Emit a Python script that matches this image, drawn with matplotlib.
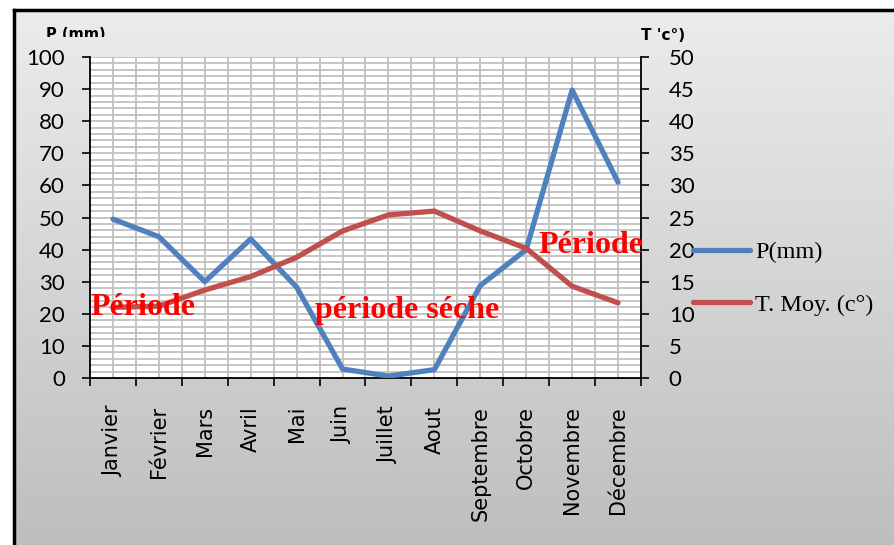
import numpy as np
import matplotlib
matplotlib.use("Agg")
import matplotlib.pyplot as plt
from matplotlib.patches import Rectangle
from matplotlib.ticker import MultipleLocator, FixedLocator

months = ["Janvier", "Février", "Mars", "Avril", "Mai", "Juin", "Juillet",
          "Aout", "Septembre", "Octobre", "Novembre", "Décembre"]
precip = [49.5, 44, 30, 43.3, 28.3, 2.8, 0.6, 2.6, 28.8, 40, 89.7, 61]
temp = [11.0, 11.2, 13.7, 15.8, 18.8, 22.9, 25.4, 26.0, 22.9, 20.2, 14.3, 11.7]
left_ticks = list(range(0, 101, 10))
right_ticks = list(range(0, 51, 5))

W, H = 895, 545
fig = plt.figure(figsize=(W / 100, H / 100), dpi=100)
fig.patch.set_facecolor("white")

# gradient background inside the chart border
bg = fig.add_axes([14 / W, 0, 1 - 14 / W, 1 - 10 / H], zorder=-10)
grad = np.linspace(0, 1, 256).reshape(-1, 1)
top_c = np.array([0.925, 0.925, 0.925])
bot_c = np.array([0.745, 0.745, 0.745])
img = top_c[None, None, :] * (1 - grad[:, :, None]) + bot_c[None, None, :] * grad[:, :, None]
bg.imshow(img, aspect="auto", extent=[0, 1, 0, 1], origin="upper")
bg.set_xlim(0, 1); bg.set_ylim(0, 1)
bg.set_xticks([]); bg.set_yticks([])
for s in ["right", "bottom"]:
    bg.spines[s].set_visible(False)
for s in ["left", "top"]:
    bg.spines[s].set_linewidth(2.5)
    bg.spines[s].set_color("black")

ax = fig.add_axes([90 / W, (H - 378) / H, (641 - 90) / W, 321 / H])
ax.set_facecolor("white")
x = np.arange(len(months))
ax.plot(x, precip, color="#4f81bd", lw=3.8, solid_capstyle="round", solid_joinstyle="round", zorder=3)
ax.set_xlim(-0.5, 11.5)
ax.set_ylim(0, 100)
ax.set_yticks(left_ticks)
ax.yaxis.set_minor_locator(MultipleLocator(2))
ax.set_xticks(x)
ax.set_xticklabels(months, rotation=90, va="top", ha="center", fontsize=15, family="DejaVu Sans")
ax.xaxis.set_minor_locator(FixedLocator(np.arange(-0.5, 12, 1.0)))
ax.tick_params(axis="x", which="major", length=0, pad=20)
ax.tick_params(axis="x", which="minor", length=6, width=1.2, direction="out")
ax.tick_params(axis="y", which="major", length=6, width=1.2, direction="out", pad=12, labelsize=16)
ax.tick_params(axis="y", which="minor", length=0)
for lab in ax.get_yticklabels():
    lab.set_family("Lato")
ax.grid(True, which="both", axis="both", color="#c0c0c0", lw=1.3, zorder=0)
ax.set_axisbelow(True)
ax.spines["top"].set_visible(False)
ax.spines["right"].set_visible(False)
ax.spines["left"].set_linewidth(1.3)
ax.spines["bottom"].set_linewidth(1.3)

ax2 = ax.twinx()
ax2.plot(x, temp, color="#c0504d", lw=3.8, solid_capstyle="round", solid_joinstyle="round", zorder=3)
ax2.set_ylim(0, 50)
ax2.set_yticks(right_ticks)
ax2.tick_params(axis="y", length=6, width=1.2, direction="out", pad=14, labelsize=16)
for lab in ax2.get_yticklabels():
    lab.set_family("Lato")
ax2.spines["top"].set_visible(False)
ax2.spines["left"].set_visible(False)
ax2.spines["bottom"].set_visible(False)
ax2.spines["right"].set_linewidth(1.3)

tfont = dict(family="Liberation Serif", fontweight="bold", color="red", fontsize=23)
ax2.text(-0.5, 19.6, "Période", transform=ax.transData, ha="left", va="baseline", zorder=5, **tfont)
ax2.text(4.4, 18.7, "période séche", transform=ax.transData, ha="left", va="baseline", zorder=5, **tfont)
ax2.text(9.26, 38.9, "Période", transform=ax.transData, ha="left", va="baseline", zorder=5, **tfont)

t1 = fig.text(76 / W, 1 - 27 / H, "P (mm)", ha="center", va="top", fontsize=10.5,
              fontweight="bold", family="DejaVu Sans")
clip = Rectangle((0, 1 - 37 / H), 1, 37 / H, transform=fig.transFigure, visible=False)
fig.add_artist(clip)
t1.set_clip_path(clip)
t1.set_clip_on(True)
fig.text(663 / W, 1 - 35 / H, "T 'c°)", ha="center", va="center", fontsize=11,
         fontweight="bold", family="DejaVu Sans")

h1, = ax.plot([], [], color="#4f81bd", lw=3.8, solid_capstyle="round")
h2, = ax.plot([], [], color="#c0504d", lw=3.8, solid_capstyle="round")
leg = fig.legend([h1, h2], ["P(mm)", "T. Moy. (c°)"], loc="upper left",
                 bbox_to_anchor=(693 / W, 1 - 241 / H), frameon=False,
                 prop=dict(family="Liberation Serif", size=17.5),
                 handlelength=2.35, handletextpad=0.2, labelspacing=1.27, borderpad=0, borderaxespad=0)

fig.savefig("out.png", dpi=100)
